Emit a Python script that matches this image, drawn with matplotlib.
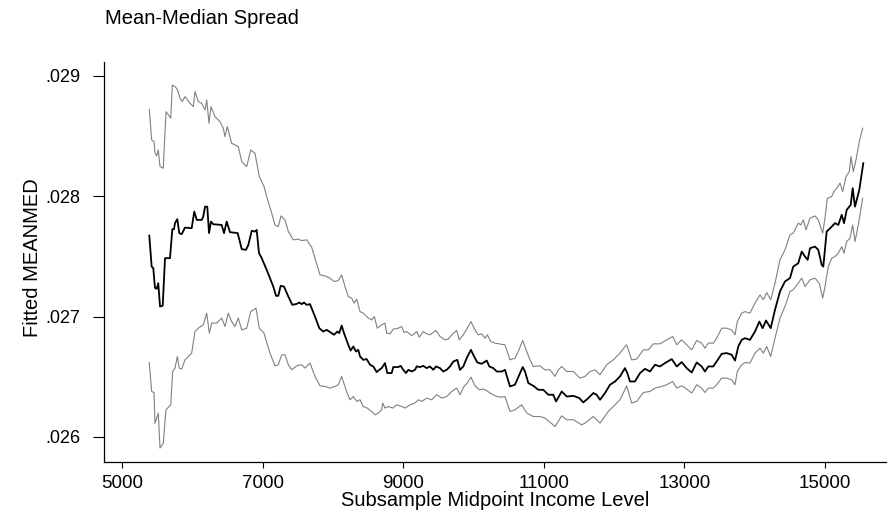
import matplotlib
matplotlib.use('Agg')
import matplotlib.pyplot as plt

# fitted mean-median spread over subsample midpoint income
mid_x = [5388, 5422, 5445, 5469, 5494, 5516, 5541, 5579, 5612, 5683,
         5716, 5740, 5754, 5787, 5815, 5849, 5896, 5991, 6028, 6063,
         6134, 6156, 6181, 6213, 6238, 6266, 6299, 6418, 6451, 6489,
         6536, 6646, 6703, 6764, 6797, 6845, 6892, 6916, 6949, 6987,
         7058, 7152, 7191, 7223, 7257, 7304, 7366, 7423, 7485, 7522,
         7556, 7589, 7627, 7674, 7745, 7807, 7863, 7912, 7983, 8016,
         8063, 8091, 8125, 8158, 8219, 8253, 8290, 8329, 8361, 8386,
         8432, 8481, 8528, 8575, 8623, 8660, 8694, 8741, 8774, 8836,
         8859, 8930, 8964, 9001, 9040, 9073, 9121, 9168, 9192, 9239,
         9286, 9334, 9381, 9428, 9467, 9524, 9570, 9619, 9666, 9713,
         9770, 9808, 9855, 9903, 9964, 9997, 10054, 10117, 10188, 10225,
         10282, 10330, 10401, 10448, 10519, 10590, 10662, 10700, 10733, 10780,
         10851, 10922, 10993, 11064, 11135, 11174, 11255, 11326, 11420, 11505,
         11562, 11633, 11704, 11752, 11800, 11871, 11942, 12013, 12084, 12155,
         12188, 12226, 12297, 12369, 12440, 12511, 12582, 12653, 12724, 12820,
         12891, 12962, 13033, 13104, 13175, 13246, 13293, 13340, 13411, 13459,
         13531, 13602, 13673, 13720, 13767, 13815, 13862, 13933, 14004, 14066,
         14114, 14161, 14228, 14289, 14360, 14431, 14502, 14549, 14620, 14669,
         14716, 14754, 14787, 14858, 14905, 14953, 14976, 15024, 15096, 15143,
         15190, 15238, 15271, 15309, 15366, 15394, 15427, 15488, 15545]
mid_y = [.027674, .027416, .027403, .027239, .027231, .027278, .027084, .027090, .027486, .027486,
         .027727, .027727, .027777, .027810, .027694, .027685, .027740, .027735, .027873, .027804,
         .027804, .027831, .027914, .027914, .027694, .027790, .027768, .027762, .027694, .027790,
         .027702, .027694, .027561, .027555, .027596, .027713, .027707, .027721, .027527, .027486,
         .027389, .027250, .027173, .027173, .027256, .027250, .027167, .027098, .027106, .027117,
         .027104, .027117, .027098, .027104, .027001, .026904, .026876, .026890, .026863, .026849,
         .026876, .026863, .026926, .026863, .026766, .026718, .026752, .026710, .026724, .026669,
         .026641, .026647, .026600, .026586, .026539, .026558, .026572, .026614, .026531, .026531,
         .026581, .026581, .026591, .026558, .026531, .026558, .026544, .026558, .026586, .026581,
         .026591, .026572, .026586, .026558, .026586, .026572, .026544, .026558, .026586, .026627,
         .026641, .026558, .026586, .026655, .026724, .026683, .026619, .026608, .026635, .026586,
         .026572, .026544, .026544, .026558, .026420, .026434, .026531, .026581, .026544, .026448,
         .026425, .026392, .026392, .026351, .026351, .026295, .026378, .026336, .026342, .026323,
         .026287, .026323, .026365, .026351, .026309, .026365, .026434, .026461, .026503, .026572,
         .026531, .026461, .026461, .026531, .026566, .026544, .026600, .026586, .026614, .026647,
         .026586, .026622, .026572, .026536, .026619, .026586, .026544, .026586, .026586, .026627,
         .026691, .026697, .026683, .026635, .026752, .026807, .026821, .026807, .026876, .026959,
         .026904, .026968, .026904, .027057, .027209, .027292, .027320, .027416, .027444, .027541,
         .027499, .027472, .027569, .027582, .027555, .027430, .027416, .027707, .027748, .027777,
         .027762, .027846, .027777, .027887, .027929, .028067, .027914, .028053, .028275]

# upper band
up_x = [5388, 5422, 5455, 5469, 5494, 5516, 5541, 5587, 5626, 5693,
        5716, 5754, 5787, 5825, 5858, 5896, 5967, 6014, 6038, 6085,
        6134, 6181, 6205, 6238, 6266, 6323, 6394, 6441, 6465, 6498,
        6560, 6654, 6703, 6774, 6831, 6892, 6953, 7020, 7058, 7129,
        7176, 7223, 7262, 7319, 7366, 7437, 7508, 7556, 7627, 7698,
        7745, 7817, 7888, 7959, 8016, 8077, 8125, 8172, 8219, 8267,
        8300, 8339, 8386, 8432, 8503, 8552, 8589, 8631, 8694, 8741,
        8765, 8812, 8859, 8930, 8979, 9011, 9050, 9121, 9192, 9229,
        9286, 9334, 9381, 9467, 9524, 9595, 9642, 9690, 9761, 9798,
        9855, 9912, 9964, 10021, 10068, 10117, 10164, 10197, 10245, 10306,
        10377, 10448, 10519, 10590, 10637, 10700, 10757, 10804, 10851, 10946,
        11017, 11088, 11160, 11207, 11255, 11326, 11420, 11515, 11586, 11657,
        11728, 11800, 11895, 11989, 12084, 12155, 12179, 12250, 12321, 12416,
        12487, 12558, 12653, 12748, 12834, 12891, 12962, 13033, 13104, 13175,
        13246, 13293, 13340, 13411, 13459, 13531, 13602, 13673, 13720, 13753,
        13815, 13862, 13933, 14004, 14076, 14123, 14171, 14228, 14289, 14360,
        14431, 14502, 14549, 14620, 14655, 14692, 14730, 14787, 14858, 14905,
        14967, 15000, 15033, 15096, 15128, 15167, 15214, 15252, 15299, 15346,
        15370, 15403, 15441, 15488, 15536]
up_y = [.028723, .028468, .028454, .028358, .028336, .028385, .028247, .028233, .028703, .028649,
        .028925, .028911, .028890, .028815, .028787, .028828, .028773, .028745, .028870, .028787,
        .028773, .028718, .028801, .028607, .028745, .028662, .028620, .028566, .028496, .028579,
        .028441, .028413, .028288, .028247, .028385, .028358, .028164, .028081, .027998, .027860,
        .027762, .027748, .027837, .027804, .027707, .027638, .027644, .027632, .027638, .027577,
        .027486, .027347, .027339, .027320, .027292, .027300, .027347, .027250, .027167, .027154,
        .027112, .027145, .027042, .027029, .026988, .026973, .027001, .026904, .026932, .026946,
        .026863, .026857, .026896, .026904, .026918, .026868, .026876, .026841, .026876, .026830,
        .026876, .026857, .026849, .026885, .026835, .026807, .026813, .026849, .026885, .026807,
        .026849, .026904, .026959, .026890, .026849, .026857, .026821, .026849, .026793, .026780,
        .026772, .026766, .026641, .026655, .026710, .026802, .026710, .026641, .026586, .026591,
        .026558, .026558, .026503, .026558, .026586, .026544, .026544, .026489, .026503, .026544,
        .026558, .026517, .026600, .026641, .026697, .026752, .026766, .026641, .026647, .026724,
        .026724, .026774, .026774, .026807, .026835, .026766, .026807, .026766, .026724, .026802,
        .026780, .026738, .026780, .026780, .026821, .026904, .026904, .026890, .026849, .026959,
        .027029, .027042, .027029, .027112, .027181, .027140, .027200, .027140, .027278, .027472,
        .027555, .027679, .027694, .027777, .027762, .027804, .027721, .027818, .027837, .027804,
        .027694, .027818, .027984, .027998, .028039, .028067, .028109, .028039, .028164, .028205,
        .028330, .028205, .028302, .028454, .028566]

# lower band
lo_x = [5388, 5422, 5455, 5469, 5494, 5516, 5541, 5587, 5626, 5693,
        5721, 5754, 5787, 5815, 5849, 5896, 5991, 6038, 6085, 6156,
        6205, 6242, 6276, 6347, 6418, 6465, 6512, 6560, 6607, 6654,
        6703, 6774, 6831, 6906, 6953, 7020, 7034, 7105, 7176, 7223,
        7272, 7319, 7366, 7414, 7485, 7556, 7603, 7674, 7745, 7817,
        7888, 7959, 8030, 8077, 8125, 8186, 8243, 8290, 8339, 8386,
        8432, 8489, 8552, 8599, 8646, 8694, 8708, 8741, 8788, 8851,
        8908, 8979, 9026, 9097, 9168, 9215, 9264, 9334, 9406, 9477,
        9548, 9619, 9690, 9761, 9808, 9865, 9912, 9964, 10021, 10082,
        10139, 10188, 10235, 10282, 10330, 10401, 10448, 10519, 10590, 10685,
        10757, 10851, 10946, 11017, 11160, 11255, 11326, 11420, 11539, 11586,
        11704, 11800, 11918, 12013, 12084, 12179, 12250, 12321, 12416, 12511,
        12582, 12677, 12748, 12834, 12891, 12962, 13033, 13104, 13175, 13246,
        13293, 13340, 13411, 13459, 13531, 13602, 13673, 13720, 13753, 13815,
        13862, 13933, 14004, 14076, 14123, 14171, 14228, 14289, 14360, 14431,
        14502, 14549, 14620, 14669, 14716, 14787, 14858, 14919, 14967, 15000,
        15047, 15096, 15143, 15190, 15238, 15271, 15309, 15356, 15394, 15427,
        15474, 15536]
lo_y = [.026619, .026378, .026370, .026115, .026157, .026199, .025908, .025949, .026226, .026267,
        .026544, .026572, .026669, .026572, .026564, .026641, .026697, .026876, .026904, .026932,
        .027029, .026863, .026946, .026946, .026988, .026918, .027029, .026959, .026918, .026988,
        .026890, .026904, .027042, .027071, .026904, .026863, .026835, .026697, .026591, .026600,
        .026683, .026683, .026600, .026558, .026591, .026600, .026572, .026614, .026503, .026425,
        .026420, .026406, .026420, .026434, .026503, .026392, .026309, .026336, .026295, .026309,
        .026253, .026240, .026212, .026184, .026198, .026226, .026282, .026240, .026253, .026240,
        .026267, .026253, .026240, .026267, .026282, .026309, .026295, .026323, .026309, .026351,
        .026323, .026336, .026378, .026406, .026351, .026420, .026448, .026498, .026425, .026392,
        .026398, .026386, .026365, .026351, .026336, .026331, .026336, .026212, .026226, .026267,
        .026199, .026170, .026170, .026157, .026087, .026176, .026143, .026143, .026101, .026115,
        .026170, .026115, .026212, .026267, .026309, .026425, .026282, .026295, .026370, .026378,
        .026406, .026420, .026434, .026461, .026406, .026425, .026398, .026365, .026434, .026406,
        .026370, .026406, .026406, .026434, .026489, .026489, .026475, .026434, .026544, .026600,
        .026619, .026614, .026697, .026738, .026697, .026752, .026669, .026821, .026988, .027084,
        .027209, .027223, .027278, .027320, .027250, .027306, .027320, .027278, .027154, .027250,
        .027416, .027486, .027499, .027527, .027582, .027527, .027624, .027652, .027762, .027624,
        .027762, .027984]

x_ticks = [5000, 7000, 9000, 11000, 13000, 15000]
y_ticks = [.026, .027, .028, .029]
y_tick_labels = ['.026', '.027', '.028', '.029']

plt.rcParams['font.family'] = ['Liberation Sans', 'DejaVu Sans']

fig = plt.figure(figsize=(8.88, 5.18), dpi=100)
ax = fig.add_axes([104 / 888, 1 - 462 / 518, 782 / 888, 400 / 518])

ax.plot(up_x, up_y, color='#808080', lw=0.8)
ax.plot(lo_x, lo_y, color='#808080', lw=0.8)
ax.plot(mid_x, mid_y, color='black', lw=1.3)

ax.set_xlim(4744, 15868)
ax.set_ylim(0.025792, 0.029116)

for s in ['top', 'right']:
    ax.spines[s].set_visible(False)
for s in ['left', 'bottom']:
    ax.spines[s].set_linewidth(0.9)

ax.set_xticks(x_ticks)
ax.set_xticklabels([str(v) for v in x_ticks])
ax.set_yticks(y_ticks)
ax.set_yticklabels(y_tick_labels)
ax.tick_params(axis='y', length=8, width=0.8, pad=9, labelsize=13)
ax.tick_params(axis='x', length=4, width=0.8, pad=5, labelsize=13.5)

fig.text(105 / 888, 1 - 18 / 518, 'Mean-Median Spread', fontsize=14.5,
         ha='left', va='center')
fig.text(495 / 888, 1 - 500 / 518, 'Subsample Midpoint Income Level',
         fontsize=14.5, ha='center', va='center')
fig.text(32 / 888, 1 - 258 / 518, 'Fitted MEANMED', fontsize=14.5,
         ha='center', va='center', rotation=90)

fig.savefig('out.png', dpi=100)
